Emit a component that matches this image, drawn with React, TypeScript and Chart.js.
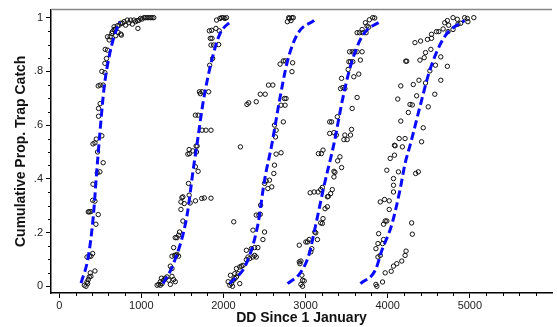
import React, { useEffect, useRef } from 'react';
import { Chart, registerables } from 'chart.js';

Chart.register(...registerables);

// ---- tick labels ----
const X_TICKS = [0, 1000, 2000, 3000, 4000, 5000];
const X_TICK_LABELS = ['0', '1000', '2000', '3000', '4000', '5000'];
const Y_TICKS = [0, 0.2, 0.4, 0.6, 0.8, 1];
const Y_TICK_LABELS = ['0', '.2', '.4', '.6', '.8', '1'];

const X_TITLE = 'DD Since 1 January';
const Y_TITLE = 'Cumulative Prop. Trap Catch';

// ---- observed cumulative proportions (DD, proportion) ----
const CATCH_1: [number, number][] = [
  [306, 0.004], [326, 0], [346, 0.01], [338, 0.016], [354, 0.025], [366, 0.035], [386, 0.037], [378, 0.05],
  [435, 0.057], [338, 0.109], [366, 0.112], [386, 0.112], [407, 0.122], [354, 0.277], [366, 0.277], [386, 0.278],
  [475, 0.267], [447, 0.231], [407, 0.32], [435, 0.317], [411, 0.38], [463, 0.422], [495, 0.426], [467, 0.5],
  [535, 0.46], [411, 0.53], [435, 0.534], [451, 0.548], [479, 0.633], [479, 0.662], [499, 0.68], [519, 0.56],
  [475, 0.746], [499, 0.749], [535, 0.749], [519, 0.8], [556, 0.795], [556, 0.83], [576, 0.848], [560, 0.882],
  [588, 0.879], [620, 0.929], [608, 0.917], [588, 0.929], [640, 0.941], [648, 0.948], [668, 0.956], [688, 0.958],
  [668, 0.966], [709, 0.97], [729, 0.972], [749, 0.979], [769, 0.979], [757, 0.935], [688, 0.933], [717, 0.945],
  [789, 0.985], [829, 0.991], [870, 0.991], [910, 0.991], [950, 0.989], [990, 0.997], [1031, 1], [1071, 1],
  [1111, 1], [1151, 1], [849, 0.981], [890, 0.976], [809, 0.972], [958, 0.96], [749, 0.939], [1010, 0.995],
  [1050, 1], [1090, 1], [1130, 1], [930, 0.985], [970, 0.99],
];

const CATCH_2: [number, number][] = [
  [1192, 0.004], [1212, 0.007], [1232, 0.004], [1252, 0.01], [1232, 0.017], [1272, 0.023], [1292, 0.03], [1312, 0.035],
  [1333, 0.023], [1353, 0.007], [1393, 0.025], [1373, 0.037], [1413, 0.017], [1244, 0.03], [1353, 0.075], [1373, 0.066],
  [1393, 0.144], [1373, 0.112], [1405, 0.115], [1425, 0.115], [1453, 0.112], [1433, 0.119], [1413, 0.181], [1433, 0.181],
  [1453, 0.19], [1465, 0.202], [1506, 0.243], [1482, 0.286], [1482, 0.314], [1494, 0.33], [1506, 0.333], [1522, 0.308],
  [1582, 0.339], [1594, 0.31], [1659, 0.318], [1735, 0.327], [1767, 0.329], [1848, 0.328], [1574, 0.383], [1691, 0.428],
  [1658, 0.445], [1586, 0.494], [1566, 0.492], [1627, 0.504], [1671, 0.5], [1679, 0.522], [1582, 0.509], [1667, 0.522],
  [1739, 0.581], [1787, 0.581], [1848, 0.581], [1658, 0.637], [1691, 0.637], [1707, 0.724], [1739, 0.724], [1820, 0.724],
  [1718, 0.717], [1832, 0.823], [1868, 0.848], [1848, 0.898], [1880, 0.898], [1860, 0.923], [1840, 0.923], [1941, 0.9],
  [1828, 0.951], [1856, 0.953], [1908, 0.96], [1948, 0.951], [1916, 0.991], [1956, 0.997], [1997, 1], [2037, 1],
  [2017, 0.997], [1976, 1],
];

const CATCH_3: [number, number][] = [
  [2077, 0.004], [2097, 0.01], [2117, 0.022], [2138, 0.029], [2158, 0.035], [2178, 0.047], [2198, 0.01], [2110, 0],
  [2057, 0.017], [2085, 0.041], [2138, 0.047], [2158, 0.066], [2198, 0.072], [2218, 0.075], [2238, 0.078], [2279, 0.099],
  [2299, 0.109], [2319, 0.103], [2359, 0.109], [2379, 0.115], [2399, 0.109], [2279, 0.134], [2339, 0.14], [2379, 0.144],
  [2419, 0.144], [2480, 0.174], [2500, 0.202], [2359, 0.209], [2125, 0.24], [2399, 0.265], [2431, 0.265], [2448, 0.268],
  [2452, 0.302], [2500, 0.383], [2520, 0.392], [2560, 0.395], [2588, 0.37], [2540, 0.364], [2613, 0.42], [2621, 0.451],
  [2641, 0.492], [2701, 0.497], [2206, 0.519], [2621, 0.6], [2641, 0.581], [2633, 0.556], [2729, 0.612], [2750, 0.674],
  [2762, 0.699], [2701, 0.674], [2742, 0.699], [2689, 0.827], [2729, 0.839], [2753, 0.839], [2842, 0.832], [2834, 0.799],
  [2778, 0.985], [2802, 0.997], [2822, 0.989], [2850, 1], [2834, 1], [2794, 1], [2548, 0.749], [2601, 0.749],
  [2448, 0.715], [2508, 0.715], [2399, 0.687], [2307, 0.683], [2286, 0.677],
];

const CATCH_4: [number, number][] = [
  [2943, 0.007], [2963, 0.022], [2955, 0.041], [2931, 0.084], [2923, 0.091], [2943, 0.094], [3064, 0.128], [3076, 0.14],
  [3023, 0.165], [3003, 0.165], [3043, 0.174], [2923, 0.153], [3144, 0.174], [3124, 0.199], [3112, 0.202], [3184, 0.236],
  [3212, 0.252], [3204, 0.234], [3237, 0.289], [3265, 0.296], [3265, 0.333], [3325, 0.36], [3305, 0.345], [3277, 0.335],
  [3055, 0.348], [3104, 0.351], [3152, 0.351], [3184, 0.36], [3204, 0.368], [3345, 0.407], [3357, 0.424], [3345, 0.428],
  [3438, 0.442], [3390, 0.467], [3418, 0.482], [3156, 0.494], [3192, 0.494], [3212, 0.507], [3293, 0.569], [3345, 0.572],
  [3374, 0.563], [3478, 0.563], [3506, 0.546], [3466, 0.546], [3559, 0.584], [3547, 0.563], [3567, 0.662], [3627, 0.703],
  [3293, 0.612], [3317, 0.612], [3386, 0.631], [3426, 0.736], [3454, 0.74], [3478, 0.736], [3438, 0.774], [3518, 0.807],
  [3527, 0.836], [3547, 0.836], [3575, 0.836], [3587, 0.78], [3647, 0.79], [3535, 0.873], [3567, 0.873], [3599, 0.873],
  [3627, 0.873], [3688, 0.873], [3667, 0.842], [3627, 0.944], [3656, 0.944], [3696, 0.944], [3736, 0.944], [3748, 0.969],
  [3776, 0.992], [3817, 1], [3841, 0.999], [3688, 0.956], [3728, 0.981], [3768, 0.965], [2983, 0.02], [2963, 0],
];

const CATCH_5: [number, number][] = [
  [3856, 0.007], [3868, 0], [3937, 0.016], [3969, 0.05], [4042, 0.056], [4070, 0.075], [4110, 0.084], [4171, 0.094],
  [4211, 0.115], [4223, 0.131], [3856, 0.14], [3881, 0.159], [3937, 0.159], [3949, 0.174], [3909, 0.115], [3881, 0.109],
  [3889, 0.196], [3949, 0.231], [3969, 0.243], [3989, 0.243], [4018, 0.286], [3909, 0.314], [3961, 0.323], [4018, 0.318],
  [4070, 0.351], [4070, 0.376], [4070, 0.401], [3989, 0.432], [4130, 0.426], [4030, 0.476], [4082, 0.488], [4082, 0.525],
  [4178, 0.519], [4291, 0.236], [4299, 0.194], [4340, 0.42], [4372, 0.426], [4412, 0.538], [4090, 0.523], [4139, 0.55],
  [4211, 0.55], [4432, 0.59], [4159, 0.615], [4251, 0.647], [4271, 0.677], [4299, 0.675], [4493, 0.668], [4122, 0.697],
  [4352, 0.709], [4573, 0.715], [4159, 0.746], [4311, 0.751], [4380, 0.767], [4460, 0.757], [4646, 0.767], [4513, 0.802],
  [4581, 0.823], [4726, 0.819], [4219, 0.838], [4231, 0.838], [4392, 0.842], [4444, 0.851], [4460, 0.87], [4525, 0.882],
  [4646, 0.854], [4331, 0.907], [4400, 0.913], [4484, 0.919], [4533, 0.923], [4533, 0.938], [4593, 0.948], [4622, 0.948],
  [4674, 0.958], [4734, 0.948], [4694, 0.981], [4726, 0.989], [4742, 0.972], [4795, 1], [4847, 0.994], [4795, 0.956],
  [4855, 0.976], [4887, 0.979], [4936, 1], [4968, 0.997], [4976, 0.985], [5048, 1],
];

// ---- fitted curves ----
const CURVE_1: [number, number][] = [
  [266, 0.012], [354, 0.11], [415, 0.26], [455, 0.42], [495, 0.57], [547, 0.74], [608, 0.855], [668, 0.93], [737, 0.985],
];
const CURVE_2: [number, number][] = [
  [1264, 0.01], [1393, 0.085], [1554, 0.26], [1634, 0.44], [1683, 0.54], [1755, 0.69], [1856, 0.84], [1957, 0.94], [2105, 0.99],
];
const CURVE_3: [number, number][] = [
  [2077, 0.01], [2279, 0.085], [2419, 0.23], [2500, 0.395], [2590, 0.53], [2681, 0.69], [2781, 0.84], [2903, 0.94], [3104, 0.99],
];
const CURVE_4: [number, number][] = [
  [2781, 0.01], [2943, 0.053], [3043, 0.12], [3124, 0.23], [3229, 0.38], [3345, 0.53], [3446, 0.69], [3547, 0.82], [3687, 0.93], [3929, 0.99],
];
const CURVE_5: [number, number][] = [
  [3668, 0.01], [3849, 0.06], [3929, 0.134], [4050, 0.23], [4150, 0.36], [4211, 0.457], [4277, 0.53], [4392, 0.668], [4513, 0.805], [4694, 0.93], [4936, 0.99],
];

const CATCHES = [CATCH_1, CATCH_2, CATCH_3, CATCH_4, CATCH_5];
const CURVES = [CURVE_1, CURVE_2, CURVE_3, CURVE_4, CURVE_5];

const FONT = '"Liberation Sans", Arial, Helvetica, sans-serif';
const BLUE = '#0a0aff';

export default function App() {
  const ref = useRef<HTMLCanvasElement>(null);

  useEffect(() => {
    document.body.style.margin = '0';
    const canvas = ref.current;
    if (!canvas) return;
    const toPts = (a: [number, number][]) => a.map(([x, y]) => ({ x, y }));

    const curveSets = CURVES.map((c) => ({
      type: 'line' as const,
      data: toPts(c),
      borderColor: BLUE,
      borderWidth: 3,
      borderDash: [8, 4],
      pointRadius: 0,
      fill: false,
      showLine: true,
      cubicInterpolationMode: 'monotone' as const,
    }));
    const pointSets = CATCHES.map((c) => ({
      type: 'scatter' as const,
      data: toPts(c),
      pointRadius: 2.2,
      borderWidth: 1,
      borderColor: '#111',
      backgroundColor: 'rgba(0,0,0,0)',
      pointStyle: 'circle',
    }));

    const minorTicks = {
      id: 'minorTicks',
      afterDraw(chart: any) {
        const { ctx, chartArea, scales } = chart;
        const xs = scales.x;
        const ys = scales.y;
        ctx.save();
        ctx.strokeStyle = '#000';
        ctx.lineWidth = 1;
        ctx.beginPath();
        for (let v = 0; v <= xs.max; v += 200) {
          if (v % 1000 === 0) continue;
          const px = Math.round(xs.getPixelForValue(v)) + 0.5;
          ctx.moveTo(px, chartArea.bottom);
          ctx.lineTo(px, chartArea.bottom + 3);
        }
        for (let i = 0; i <= 20; i++) {
          const v = i * 0.05;
          if (i % 4 === 0) continue;
          const py = Math.round(ys.getPixelForValue(v)) + 0.5;
          ctx.moveTo(chartArea.left, py);
          ctx.lineTo(chartArea.left - 3, py);
        }
        ctx.stroke();
        // top frame line
        ctx.strokeStyle = '#888';
        ctx.lineWidth = 1.5;
        ctx.beginPath();
        ctx.moveTo(chartArea.left, chartArea.top);
        ctx.lineTo(chartArea.right, chartArea.top);
        ctx.stroke();
        ctx.restore();
      },
    };

    const chart = new Chart(canvas, {
      type: 'scatter',
      data: { datasets: [...curveSets, ...pointSets] as any },
      options: {
        animation: false,
        responsive: false,
        maintainAspectRatio: false,
        layout: { padding: { top: 9, right: 0, left: 0, bottom: 0 } },
        plugins: { legend: { display: false }, tooltip: { enabled: false } },
        scales: {
          x: {
            type: 'linear',
            min: -100,
            max: 6000,
            afterBuildTicks: (s: any) => {
              s.ticks = X_TICKS.map((v) => ({ value: v }));
            },
            afterFit: (s: any) => {
              s.height = 34;
            },
            ticks: {
              autoSkip: false,
              maxRotation: 0,
              padding: 1,
              color: '#222',
              font: { family: FONT, size: 11 },
              callback: (v: any) => X_TICK_LABELS[X_TICKS.indexOf(Number(v))] ?? '',
            },
            grid: { display: true, drawOnChartArea: false, drawTicks: true, tickLength: 5, tickColor: '#000', tickWidth: 1 },
            border: { display: true, color: '#000', width: 1.5 },
            title: {
              display: true,
              text: X_TITLE,
              color: '#111',
              font: { family: FONT, size: 14, weight: 'bold' },
              padding: { top: 0, bottom: 0 },
            },
          },
          y: {
            type: 'linear',
            min: -0.025,
            max: 1.03,
            afterBuildTicks: (s: any) => {
              s.ticks = Y_TICKS.map((v) => ({ value: v }));
            },
            afterFit: (s: any) => {
              s.width = 51;
            },
            ticks: {
              autoSkip: false,
              padding: 3,
              color: '#222',
              font: { family: FONT, size: 11 },
              callback: (v: any) => {
                const i = Y_TICKS.findIndex((t) => Math.abs(t - Number(v)) < 1e-9);
                return i >= 0 ? Y_TICK_LABELS[i] : '';
              },
            },
            grid: { display: true, drawOnChartArea: false, drawTicks: true, tickLength: 5, tickColor: '#000', tickWidth: 1 },
            border: { display: true, color: '#000', width: 1.5 },
            title: {
              display: true,
              text: Y_TITLE,
              color: '#111',
              font: { family: FONT, size: 14, weight: 'bold' },
              padding: { top: 13, bottom: 0 },
            },
          },
        },
      } as any,
      plugins: [minorTicks],
    });
    return () => chart.destroy();
  }, []);

  return (
    <div style={{ position: 'absolute', left: 0, top: 0, width: 557, height: 327, background: '#fff' }}>
      <canvas ref={ref} width={557} height={327} style={{ width: 557, height: 327, display: 'block' }} />
    </div>
  );
}
